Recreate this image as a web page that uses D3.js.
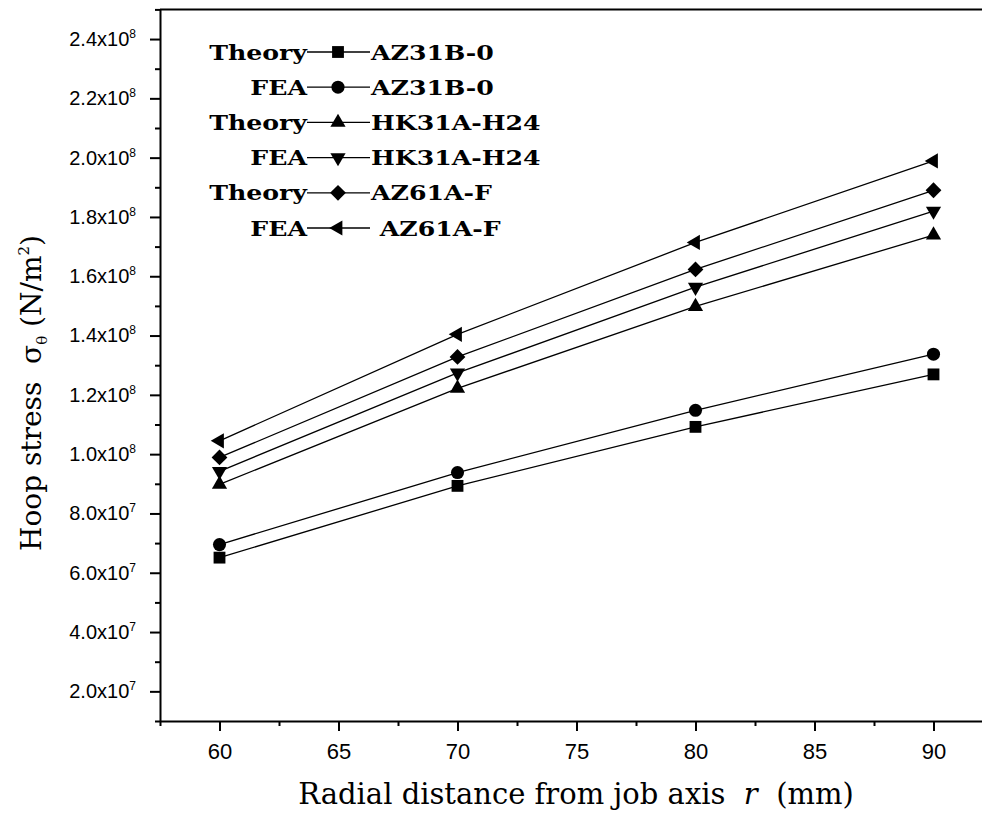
<!DOCTYPE html>
<html>
<head>
<meta charset="utf-8">
<script src="https://cdn.jsdelivr.net/npm/d3@7"></script>
<style>
  body { margin: 0; background: #fff; overflow: hidden; }
  svg { display: block; }
</style>
</head>
<body>
<div id="chart"></div>
<script>
// radial distance r (mm)
var radius = [60, 70, 80, 90];

// hoop stress values (N/m^2)
var theoryAZ31B = [0.651e8, 0.893e8, 1.092e8, 1.269e8];
var feaAZ31B    = [0.695e8, 0.938e8, 1.148e8, 1.337e8];
var theoryHK31A = [0.898e8, 1.222e8, 1.498e8, 1.739e8];
var feaHK31A    = [0.942e8, 1.274e8, 1.563e8, 1.820e8];
var theoryAZ61A = [0.989e8, 1.328e8, 1.623e8, 1.890e8];
var feaAZ61A    = [1.045e8, 1.404e8, 1.714e8, 1.989e8];

var legendMethods = ['Theory', 'FEA', 'Theory', 'FEA', 'Theory', 'FEA'];
var legendMaterials = ['AZ31B-0', 'AZ31B-0', 'HK31A-H24', 'HK31A-H24', 'AZ61A-F', ' AZ61A-F'];

var xTicks = [60, 65, 70, 75, 80, 85, 90];
var yTicks = [2e7, 4e7, 6e7, 8e7, 1e8, 1.2e8, 1.4e8, 1.6e8, 1.8e8, 2e8, 2.2e8, 2.4e8];

var width = 982;
var height = 816;

// marker shapes, in series order
var markers = [
  { type: d3.symbolSquare,   size: 140, rotate: 0 },
  { type: d3.symbolCircle,   size: 135, rotate: 0 },
  { type: d3.symbolTriangle, size: 100, rotate: 0 },
  { type: d3.symbolTriangle, size: 100, rotate: 180 },
  { type: d3.symbolSquare,   size: 125, rotate: 45 },
  { type: d3.symbolTriangle, size: 100, rotate: -90 }
];

var series = [theoryAZ31B, feaAZ31B, theoryHK31A, feaHK31A, theoryAZ61A, feaAZ61A];

var x = d3.scaleLinear().domain([57.5, 92.5]).range([160, 993]);
var y = d3.scaleLinear().domain([1e7, 2.5e8]).range([721, 9.4]);

var svg = d3.select('#chart').append('svg')
  .attr('width', width)
  .attr('height', height);

// top border of the frame (right side is cut off in the figure)
svg.append('line')
  .attr('x1', x(57.5)).attr('x2', width)
  .attr('y1', y(2.5e8)).attr('y2', y(2.5e8))
  .attr('stroke', '#000').attr('stroke-width', 2);

// minor ticks
var xMinor = d3.range(57.5, 93, 2.5).filter(function (v) { return v % 5 !== 0; });
var yMinor = d3.range(1e7, 2.6e8, 2e7);

svg.append('g')
  .attr('transform', 'translate(0,' + y(1e7) + ')')
  .call(d3.axisBottom(x).tickValues(xMinor).tickSize(5).tickFormat(''))
  .call(function (g) { g.select('.domain').remove(); })
  .selectAll('line').attr('stroke-width', 2);

svg.append('g')
  .attr('transform', 'translate(' + x(57.5) + ',0)')
  .call(d3.axisLeft(y).tickValues(yMinor).tickSize(5).tickFormat(''))
  .call(function (g) { g.select('.domain').remove(); })
  .selectAll('line').attr('stroke-width', 2);

// x axis
var xAxis = svg.append('g')
  .attr('transform', 'translate(0,' + y(1e7) + ')')
  .call(d3.axisBottom(x).tickValues(xTicks).tickSize(10).tickSizeOuter(0).tickPadding(12));
xAxis.select('.domain').attr('stroke-width', 2);
xAxis.selectAll('line').attr('stroke-width', 2);
xAxis.selectAll('text')
  .attr('font-family', 'Liberation Sans Narrow, Liberation Sans, Arial, sans-serif')
  .attr('font-size', 22)
  .attr('fill', '#000');

// y axis with 2.4x10^8 style labels
var yAxis = svg.append('g')
  .attr('transform', 'translate(' + x(57.5) + ',0)')
  .call(d3.axisLeft(y).tickValues(yTicks).tickSize(10).tickSizeOuter(0).tickPadding(14).tickFormat(''));
yAxis.select('.domain').attr('stroke-width', 2);
yAxis.selectAll('line').attr('stroke-width', 2);
yAxis.selectAll('text')
  .attr('font-family', 'Liberation Sans, Arial, sans-serif')
  .attr('font-size', 20)
  .attr('fill', '#000')
  .each(function (d) {
    var e = Math.floor(Math.log10(d) + 1e-9);
    var m = d / Math.pow(10, e);
    var t = d3.select(this);
    t.append('tspan').text(m.toFixed(1) + 'x10');
    t.append('tspan').attr('dy', -8).attr('font-size', 12).text(e);
  });

// series lines and markers
var line = d3.line()
  .x(function (d, i) { return x(radius[i]); })
  .y(function (d) { return y(d); });

series.forEach(function (values, k) {
  svg.append('path')
    .datum(values)
    .attr('d', line)
    .attr('fill', 'none')
    .attr('stroke', '#000')
    .attr('stroke-width', 1.3);

  var m = markers[k];
  svg.selectAll('.m' + k)
    .data(values)
    .enter().append('path')
    .attr('class', 'm' + k)
    .attr('d', d3.symbol().type(m.type).size(m.size))
    .attr('transform', function (d, i) {
      return 'translate(' + x(radius[i]) + ',' + y(d) + ') rotate(' + m.rotate + ')';
    })
    .attr('fill', '#000');
});

// legend (bold wide serif, stretched a little to match the figure)
var legend = svg.append('g')
  .attr('font-family', 'DejaVu Serif, serif')
  .attr('font-weight', 'bold')
  .attr('font-size', 21);

var stretch = 1.2;

legendMethods.forEach(function (name, i) {
  var cy = 52 + i * 35.2;
  legend.append('text')
    .attr('transform', 'translate(307,' + (cy + 7.5) + ') scale(' + stretch + ',1)')
    .attr('text-anchor', 'end')
    .text(name);
  legend.append('line')
    .attr('x1', 307).attr('x2', 370)
    .attr('y1', cy).attr('y2', cy)
    .attr('stroke', '#000').attr('stroke-width', 1.3);
  var m = markers[i];
  legend.append('path')
    .attr('d', d3.symbol().type(m.type).size(m.size))
    .attr('transform', 'translate(338,' + cy + ') rotate(' + m.rotate + ')')
    .attr('fill', '#000');
  legend.append('text')
    .attr('transform', 'translate(371,' + (cy + 7.5) + ') scale(' + stretch + ',1)')
    .style('white-space', 'pre')
    .text(legendMaterials[i]);
});

// axis titles
svg.append('text')
  .attr('x', 576).attr('y', 804)
  .attr('text-anchor', 'middle')
  .attr('font-family', 'DejaVu Serif, serif')
  .attr('font-size', 29)
  .style('white-space', 'pre')
  .call(function (t) {
    t.append('tspan').text('Radial distance from job axis  ');
    t.append('tspan').attr('font-style', 'italic').text('r');
    t.append('tspan').text('  (mm)');
  });

svg.append('text')
  .attr('transform', 'translate(41,393) rotate(-90)')
  .attr('text-anchor', 'middle')
  .attr('font-family', 'DejaVu Serif, serif')
  .attr('font-size', 28)
  .style('white-space', 'pre')
  .call(function (t) {
    t.append('tspan').text('Hoop stress  σ');
    t.append('tspan').attr('font-size', 15).attr('dy', 6).text('θ');
    t.append('tspan').attr('dy', -6).text(' (N/m');
    t.append('tspan').attr('font-size', 15).attr('dy', -12).text('2');
    t.append('tspan').attr('dy', 12).text(')');
  });
</script>
</body>
</html>
